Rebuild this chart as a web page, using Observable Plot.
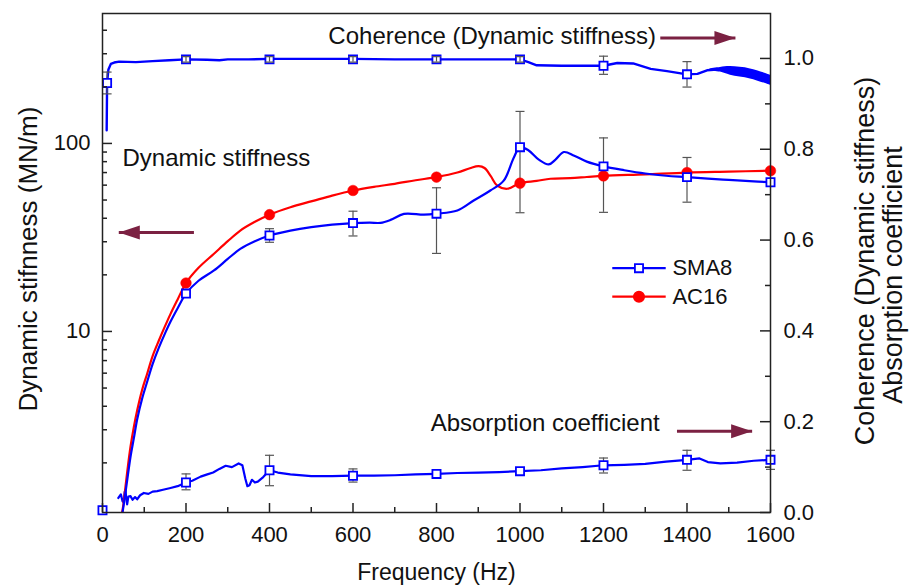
<!DOCTYPE html>
<html><head><meta charset="utf-8">
<script src="https://cdn.jsdelivr.net/npm/d3@7"></script>
<script src="https://cdn.jsdelivr.net/npm/@observablehq/plot@0.6"></script>
<style>
html,body{margin:0;padding:0;background:#fff;}
#chart svg{display:block;}
</style></head><body><div id="chart"></div>
<script>
// ---------- DATA ----------
// Dynamic stiffness (MN/m), left log axis
const sma8Stiffness = [[48,1.09],[52,1.25],[58,1.55],[67,2.15],[75,2.7],[83,3.4],[95,4.4],[107,5.4],[120,6.7],[135,8.2],[150,9.8],[163,11.3],[180,13.3],[200,15.9],[230,18.6],[267,21.1],[300,24.3],[330,27.5],[365,30.2],[400,32.4],[450,34.4],[500,35.9],[550,37.0],[600,37.7],[640,37.9],[666,37.8],[690,39.2],[722,42.2],[770,41.8],[800,42.3],[850,44.0],[889,49.7],[929,56.2],[961,63.4],[985,84],[1000,95.5],[1020,92],[1045,82],[1069,77.3],[1085,82],[1105,90],[1130,86],[1160,80],[1200,75.5],[1250,72],[1300,69.2],[1350,67.3],[1400,66.2],[1450,65],[1500,64],[1550,63],[1600,62.2]];
const ac16Stiffness = [[47,1.09],[50,1.2],[55,1.49],[60,1.85],[67,2.43],[75,3.1],[83,3.8],[95,4.9],[107,5.96],[120,7.4],[135,8.95],[150,10.7],[163,12.4],[180,14.8],[200,18.1],[230,21.8],[267,25.9],[300,30.2],[330,34.4],[365,38.3],[400,41.8],[450,45.8],[502,49.3],[550,52.8],[600,56.2],[650,58.8],[700,61],[750,63.7],[800,66.2],[850,70],[880,73.8],[901,75.7],[915,74],[930,67],[945,59.8],[969,57.4],[1000,61.5],[1040,63.2],[1073,64.9],[1120,65.4],[1160,66.3],[1200,67.2],[1300,68.5],[1400,70],[1500,70.8],[1600,71.6]];
const markerFreq = [200,400,600,800,1000,1200,1400,1600];
const sma8StiffMarkers = [15.9,32.4,37.7,42.3,95.5,75.5,66.2,62.2];
const ac16StiffMarkers = [18.1,41.8,56.2,66.2,61.5,67.2,70,71.6];
const sma8StiffErrFreq = [400,600,800,1000,1200,1400];
const sma8StiffErrLow  = [29.8,32.2,26.0,42.8,43.0,48.7];
const sma8StiffErrHigh = [35.2,43.6,58.1,148,107,84.2];

// Coherence (right axis)
const coherence = [[10,0.842],[11,0.946],[14,0.975],[20,0.988],[28,0.991],[40,0.993],[80,0.992],[120,0.994],[160,0.996],[200,0.998],[250,0.997],[280,0.996],[300,0.998],[350,0.998],[400,0.999],[500,0.999],[600,0.999],[700,0.998],[800,0.998],[900,0.998],[1000,0.998],[1020,0.992],[1040,0.985],[1100,0.984],[1150,0.984],[1200,0.984],[1233,0.99],[1271,0.989],[1313,0.977],[1352,0.972],[1400,0.965],[1425,0.966],[1448,0.974],[1480,0.976],[1504,0.973],[1552,0.966],[1600,0.952]];
const coherenceBand = [[1455,0.972,0.977],[1480,0.970,0.980],[1504,0.963,0.982],[1552,0.955,0.977],[1600,0.941,0.963]];
const cohMarkerFreq = [11,200,400,600,800,1000,1200,1400];
const cohMarkers = [0.946,0.998,0.998,0.998,0.998,0.998,0.984,0.965];
const cohErrLow  = [0.922,0.992,0.992,0.992,0.992,0.992,0.965,0.937];
const cohErrHigh = [0.970,1.004,1.004,1.004,1.004,1.004,1.005,0.993];

// Absorption coefficient (right axis)
const absorption = [[38,0.032],[44,0.04],[48,0.025],[51,0.022],[53,0.045],[55,0.05],[57,0.03],[59,0.018],[62,0.035],[67,0.036],[72,0.028],[78,0.034],[83,0.029],[90,0.038],[99,0.043],[110,0.041],[120,0.046],[131,0.047],[145,0.05],[163,0.054],[180,0.058],[200,0.066],[215,0.07],[235,0.079],[251,0.084],[265,0.088],[280,0.096],[295,0.103],[310,0.1],[326,0.108],[335,0.104],[342,0.075],[347,0.058],[352,0.06],[358,0.072],[365,0.066],[372,0.068],[385,0.078],[400,0.093],[420,0.088],[450,0.084],[500,0.08],[550,0.08],[600,0.081],[650,0.081],[700,0.082],[750,0.084],[800,0.085],[850,0.087],[900,0.088],[950,0.089],[1000,0.091],[1050,0.093],[1100,0.097],[1150,0.1],[1200,0.104],[1250,0.105],[1300,0.107],[1350,0.112],[1400,0.116],[1430,0.119],[1450,0.111],[1480,0.108],[1520,0.11],[1560,0.114],[1600,0.116]];
const absMarkerFreq = [0,200,400,600,800,1000,1200,1400,1600];
const absMarkers = [0.005,0.066,0.093,0.081,0.085,0.091,0.104,0.116,0.116];
const absErrFreq = [200,400,600,1200,1400,1600];
const absErrLow  = [0.050,0.059,0.067,0.087,0.093,0.095];
const absErrHigh = [0.085,0.126,0.096,0.120,0.137,0.137];

// Ticks
const xMajorTicks = [0,200,400,600,800,1000,1200,1400,1600];
const xMinorTicks = [100,300,500,700,900,1100,1300,1500];
const leftMajorTicks = [10,100];
const leftMinorTicks = [2,3,4,5,6,7,8,9,20,30,40,50,60,70,80,90,200,300,400];
const rightMajorTicks = [0,0.2,0.4,0.6,0.8,1.0];
const rightMinorTicks = [0.1,0.3,0.5,0.7,0.9];

// ---------- LAYOUT ----------
const W = 909, H = 588, mL = 102, mR = 139, mT = 13, mB = 76;
const innerW = W - mL - mR, innerH = H - mT - mB;
const Y_DOMAIN = [1.089, 491];
const RIGHT_DOMAIN = [0, 1.099];
const L0 = Math.log10(Y_DOMAIN[0]), L1 = Math.log10(Y_DOMAIN[1]);
const toLeft = v => Math.pow(10, L0 + (v - RIGHT_DOMAIN[0]) / (RIGHT_DOMAIN[1] - RIGHT_DOMAIN[0]) * (L1 - L0));

const BLUE = "#0000ff", RED = "#ff0000", AXIS = "#222", ERR = "#555", ARROW = "#7b2142";
const FONT = "'Liberation Sans', Arial, sans-serif";

const capSymbol = {draw(ctx) { ctx.moveTo(-4.5, 0); ctx.lineTo(4.5, 0); }};
const headSymbol = {draw(ctx) { ctx.moveTo(0, 0); ctx.lineTo(-21, -7); ctx.lineTo(-21, 7); ctx.closePath(); }};

const idx = a => a.map((_, i) => i);

function errorBars(freqs, lows, highs, mapY) {
  const I = idx(freqs);
  return [
    Plot.ruleX(I, {x: i => freqs[i], y1: i => mapY(lows[i]), y2: i => mapY(highs[i]), stroke: ERR, strokeWidth: 1.2}),
    Plot.dot(I, {x: i => freqs[i], y: i => mapY(lows[i]), symbol: capSymbol, stroke: ERR, strokeWidth: 1.2, fill: "none"}),
    Plot.dot(I, {x: i => freqs[i], y: i => mapY(highs[i]), symbol: capSymbol, stroke: ERR, strokeWidth: 1.2, fill: "none"})
  ];
}
const same = v => v;

const arrows = [
  {x1: 1336, x2: 1516, y: toLeft(1.045), dir: 0},
  {x1: 219, x2: 39, y: 33.6, dir: 180},
  {x1: 1376, x2: 1556, y: toLeft(0.179), dir: 0}
];

const chart = Plot.plot({
  width: W, height: H,
  marginLeft: mL, marginRight: mR, marginTop: mT, marginBottom: mB,
  style: {fontFamily: FONT, fontSize: "22px", color: "#111", background: "#fff"},
  x: {domain: [0, 1600], axis: null},
  y: {type: "log", domain: Y_DOMAIN, axis: null},
  marks: [
    // curves
    Plot.areaY(coherenceBand, {x: d => d[0], y1: d => toLeft(d[1]), y2: d => toLeft(d[2]), fill: BLUE, curve: "catmull-rom", clip: true}),
    Plot.line(coherence, {x: d => d[0], y: d => toLeft(d[1]), stroke: BLUE, strokeWidth: 2.4, curve: "linear", clip: true}),
    Plot.line(absorption, {x: d => d[0], y: d => toLeft(d[1]), stroke: BLUE, strokeWidth: 2.2, curve: "linear", clip: true}),
    Plot.line(ac16Stiffness, {x: d => d[0], y: d => d[1], stroke: RED, strokeWidth: 2.2, curve: "catmull-rom", clip: true}),
    Plot.line(sma8Stiffness, {x: d => d[0], y: d => d[1], stroke: BLUE, strokeWidth: 2.2, curve: "catmull-rom", clip: true}),
    // error bars (behind markers)
    ...errorBars(sma8StiffErrFreq, sma8StiffErrLow, sma8StiffErrHigh, same),
    ...errorBars(absErrFreq, absErrLow, absErrHigh, toLeft),
    ...errorBars([cohMarkerFreq[0], cohMarkerFreq[6], cohMarkerFreq[7]], [cohErrLow[0], cohErrLow[6], cohErrLow[7]], [cohErrHigh[0], cohErrHigh[6], cohErrHigh[7]], toLeft),
    // markers
    Plot.dot(idx(markerFreq), {x: i => markerFreq[i], y: i => ac16StiffMarkers[i], symbol: "circle", r: 5.3, fill: RED, stroke: RED, strokeWidth: 0.5}),
    Plot.dot(idx(markerFreq), {x: i => markerFreq[i], y: i => sma8StiffMarkers[i], symbol: "square", r: 4.6, fill: "white", stroke: BLUE, strokeWidth: 1.8}),
    Plot.dot(idx(cohMarkerFreq), {x: i => cohMarkerFreq[i], y: i => toLeft(cohMarkers[i]), symbol: "square", r: 4.6, fill: "white", stroke: BLUE, strokeWidth: 1.8}),
    Plot.dot(idx(absMarkerFreq), {x: i => absMarkerFreq[i], y: i => toLeft(absMarkers[i]), symbol: "square", r: 4.6, fill: "white", stroke: BLUE, strokeWidth: 1.8}),
    // small coherence error bars drawn over markers
    ...errorBars(cohMarkerFreq.slice(1, 6), cohErrLow.slice(1, 6), cohErrHigh.slice(1, 6), toLeft),
    // frame and ticks
    Plot.frame({stroke: AXIS, strokeWidth: 1.5}),
    Plot.tickX(xMajorTicks, {x: d => d, insetTop: innerH - 9, stroke: AXIS, strokeWidth: 1.5}),
    Plot.tickX(xMinorTicks, {x: d => d, insetTop: innerH - 5, stroke: AXIS, strokeWidth: 1.5}),
    Plot.tickY(leftMajorTicks, {y: d => d, insetRight: innerW - 10, stroke: AXIS, strokeWidth: 1.5}),
    Plot.tickY(leftMinorTicks, {y: d => d, insetRight: innerW - 5, stroke: AXIS, strokeWidth: 1.5}),
    Plot.tickY(rightMajorTicks, {y: d => toLeft(d), insetLeft: innerW - 10, stroke: AXIS, strokeWidth: 1.5}),
    Plot.tickY(rightMinorTicks, {y: d => toLeft(d), insetLeft: innerW - 5, stroke: AXIS, strokeWidth: 1.5}),
    // tick labels
    Plot.text(xMajorTicks, {x: d => d, frameAnchor: "bottom", dy: 22, text: d => String(d), textAnchor: "middle", lineAnchor: "middle", fontSize: 22, fill: "#111"}),
    Plot.text(leftMajorTicks, {y: d => d, frameAnchor: "left", dx: -12, text: d => String(d), textAnchor: "end", lineAnchor: "middle", fontSize: 22, fill: "#111"}),
    Plot.text(rightMajorTicks, {y: d => toLeft(d), frameAnchor: "right", dx: 13, text: d => d.toFixed(1), textAnchor: "start", lineAnchor: "middle", fontSize: 22, fill: "#111"}),
    // axis titles
    Plot.text(["Frequency (Hz)"], {frameAnchor: "bottom", dy: 60, text: d => d, textAnchor: "middle", fontSize: 23, fill: "#111", lineAnchor: "middle"}),
    Plot.text(["Dynamic stifnness (MN/m)"], {frameAnchor: "left", dx: -74, dy: -4, rotate: -90, text: d => d, textAnchor: "middle", fontSize: 26, fill: "#111", lineAnchor: "middle"}),
    Plot.text(["Coherence (Dynamic stiffness)"], {frameAnchor: "right", dx: 95, dy: -2, rotate: -90, text: d => d, textAnchor: "middle", fontSize: 27, fill: "#111", lineAnchor: "middle"}),
    Plot.text(["Absorption coefficient"], {frameAnchor: "right", dx: 123, dy: 12, rotate: -90, text: d => d, textAnchor: "middle", fontSize: 27, fill: "#111", lineAnchor: "middle"}),
    // annotations
    Plot.text(["Coherence (Dynamic stiffness)"], {x: 541, y: toLeft(1.048), text: d => d, textAnchor: "start", fontSize: 24, fill: "#111", lineAnchor: "middle"}),
    Plot.text(["Dynamic stiffness"], {x: 48, y: 83.2, text: d => d, textAnchor: "start", fontSize: 24, fill: "#111", lineAnchor: "middle"}),
    Plot.text(["Absorption coefficient"], {x: 786, y: toLeft(0.196), text: d => d, textAnchor: "start", fontSize: 24, fill: "#111", lineAnchor: "middle"}),
    Plot.link(arrows, {x1: "x1", x2: "x2", y1: "y", y2: "y", stroke: ARROW, strokeWidth: 3}),
    Plot.dot(arrows, {x: "x2", y: "y", symbol: headSymbol, rotate: "dir", fill: ARROW, stroke: "none"}),
    // legend
    Plot.link([{y: 21.7, c: BLUE}, {y: 15.3, c: RED}], {x1: 1221, x2: 1349, y1: "y", y2: "y", stroke: "c", strokeWidth: 2.2}),
    Plot.dot([21.7], {x: 1285, y: d => d, symbol: "square", r: 4.6, fill: "white", stroke: BLUE, strokeWidth: 1.8}),
    Plot.dot([15.3], {x: 1285, y: d => d, symbol: "circle", r: 5.3, fill: RED, stroke: RED}),
    Plot.text(["SMA8", "AC16"], {x: 1365, y: (d, i) => [21.7, 15.3][i], text: d => d, textAnchor: "start", fontSize: 22, fill: "#111", lineAnchor: "middle"})
  ]
});
document.getElementById("chart").appendChild(chart);
</script>
</body></html>
